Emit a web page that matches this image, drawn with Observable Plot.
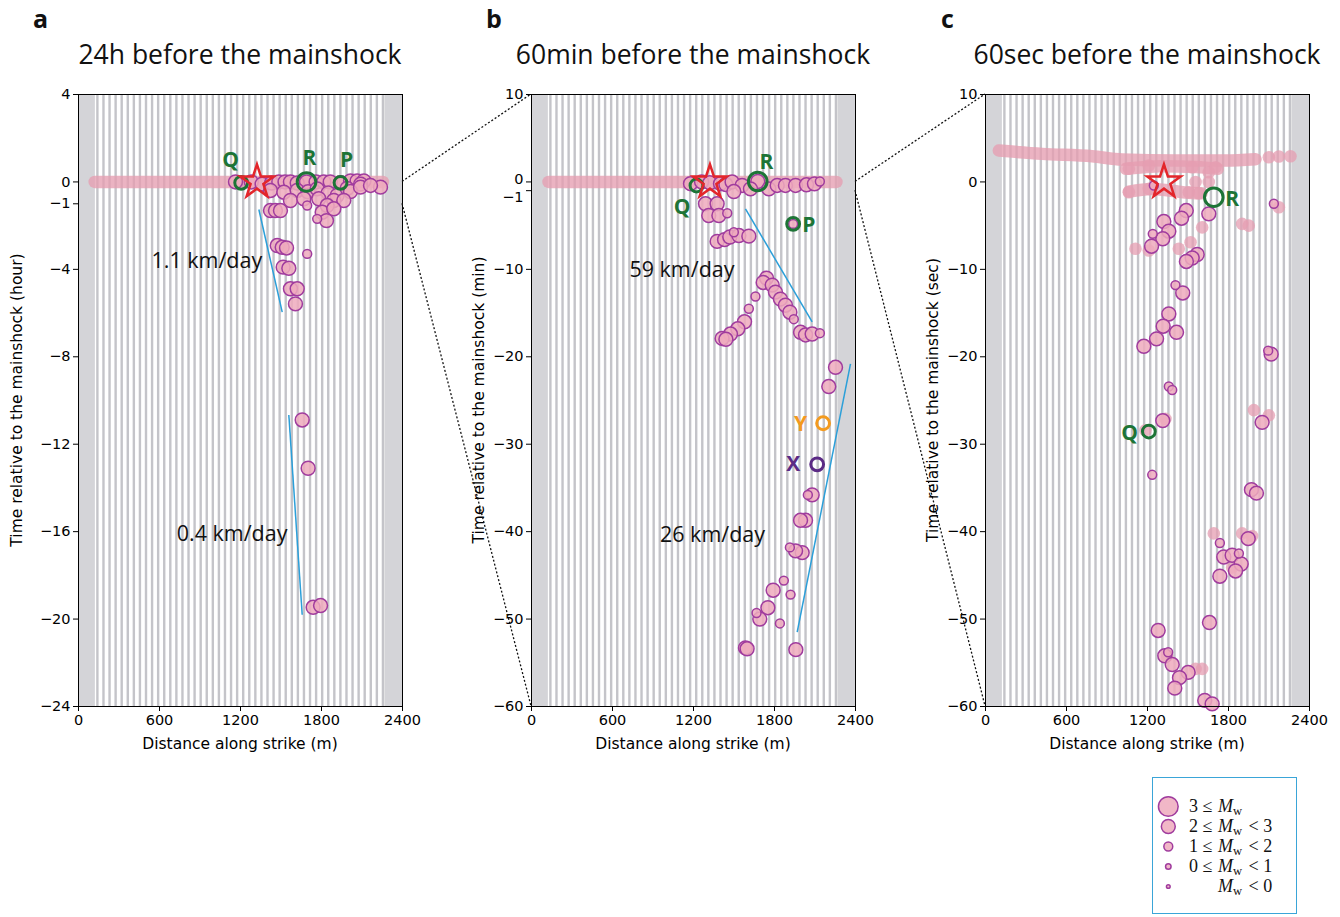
<!DOCTYPE html>
<html>
<head>
<meta charset="utf-8">
<script src="https://cdn.jsdelivr.net/npm/d3@7"></script>
<script src="https://cdn.jsdelivr.net/npm/@observablehq/plot@0.6"></script>
<style>
html,body{margin:0;padding:0;background:#fff;}
#root{position:relative;width:1340px;height:917px;overflow:hidden;background:#fff;}
.abs{position:absolute;}
.letter{font-family:"Open Sans",sans-serif;font-weight:700;font-size:25px;line-height:1;color:#111;}
.title{font-family:"Open Sans",sans-serif;font-size:26.5px;line-height:1;transform:translateX(-50%);white-space:nowrap;color:#111;}
.xlabel{font-family:"DejaVu Sans",sans-serif;font-size:15.5px;line-height:1;transform:translate(-50%,-50%);white-space:nowrap;}
.ylabel{font-family:"DejaVu Sans",sans-serif;font-size:15.5px;line-height:1;transform:translate(-50%,-50%) rotate(-90deg);white-space:nowrap;}
#legend{left:1152px;top:777px;width:143px;height:135px;border:1.5px solid #3aa5d8;background:#fff;}
</style>
</head>
<body>
<div id="root"></div>
<script>
// ---------------- data ----------------
const xTicks = [0, 600, 1200, 1800, 2400];
const yTicksA = [4, 0, -1, -4, -8, -12, -16, -20, -24];
const yTicksB = [10, 0, -1, -10, -20, -30, -40, -50, -60];
const yTicksC = [10, 0, -10, -20, -30, -40, -50, -60];
const panelLetters = ["a", "b", "c"];
const panelTitles = ["24h before the mainshock", "60min before the mainshock", "60sec before the mainshock"];
const yLabels = ["Time relative to the mainshock (hour)", "Time relative to the mainshock (min)", "Time relative to the mainshock (sec)"];
const xLabel = "Distance along strike (m)";
const cableSpan = [125, 2270];      // instrumented section (m)
const channelSpacing = 45;          // spacing of channels (m)
const mainshock = [[1322, 0]];

// events: [distance m, time, Mw]
const eventsA = [
  [1163,0,2.5],[1280,0,2.5],[1360,-0.1,2.5],[1430,-0.05,2.5],[1484,0,2.5],[1530,0,2.5],[1570,0,2.5],[1620,-0.05,2.5],
  [1689,0,2.5],[1760,0,2.5],[1817,0,2.5],[1865,0,2.5],[1941,-0.04,2.5],[2015,0.05,2.5],[2064,0.05,2.5],[2114,0.05,2.5],
  [2090,-0.1,2.5],[2237,-0.24,2.5],
  [1422,-0.39,2.5],[1521,-0.47,2.5],[1620,-0.39,2.5],[1700,-0.45,2.5],[1768,-0.32,2.5],[1850,-0.5,2.5],[1916,-0.62,2.5],
  [1990,-0.3,2.5],[2015,-0.44,2.5],[2089,-0.24,2.5],[2163,-0.16,2.5],
  [1570,-0.85,2.5],[1669,-0.77,2.5],[1780,-0.77,2.5],[1891,-0.85,2.5],[1965,-0.85,2.5],[1694,-1.08,1.5],[1842,-1.08,2.5],
  [1805,-1.39,2.5],[1891,-1.23,2.5],[1768,-1.69,1.5],[1837,-1.77,2.5],
  [1422,-1.31,2.5],[1459,-1.31,2.5],[1496,-1.31,2.5],
  [1472,-2.91,2.5],[1509,-2.99,2.5],[1541,-3.02,2.5],[1694,-3.29,1.5],[1516,-3.9,2.5],[1558,-3.95,2.5],
  [1570,-4.89,2.5],[1620,-4.89,2.5],[1607,-5.58,2.5],
  [1657,-10.89,2.5],[1701,-13.1,2.5],[1738,-19.46,2.5],[1793,-19.38,2.5]
];
const eventsB = [
  [1178,-0.2,2.5],[1260,0,2.5],[1321,-0.1,2.5],[1400,-0.2,2.5],[1440,-0.3,2.5],[1486,0,2.5],[1560,-0.4,2.5],[1676,0.05,2.5],
  [1622,-0.8,2.5],[1499,-1.1,2.5],[1758,-0.8,2.5],[1820,-0.4,2.5],[1881,-0.4,2.5],[1956,-0.4,2.5],[2037,-0.33,2.5],
  [2096,-0.22,2.5],[2136,0.05,1.5],
  [1289,-2.5,2.5],[1375,-2.5,2.5],[1313,-3.84,2.5],[1388,-3.84,2.5],[1450,-3.58,1.5],[1938,-4.8,1.5],
  [1375,-6.8,2.5],[1430,-6.6,2.5],[1469,-6.3,2.5],[1499,-5.75,1.5],[1536,-6.13,2.5],[1610,-6.2,2.5],
  [1741,-11.0,2.5],[1716,-11.5,2.5],[1783,-11.8,2.5],[1807,-12.6,2.5],[1659,-13.1,1.5],[1844,-13.4,2.5],[1881,-14.1,2.5],
  [1914,-14.9,2.5],[1943,-15.7,1.5],[1610,-14.5,1.5],[1578,-16.0,2.5],[1528,-16.8,2.5],[1474,-17.4,2.5],[1412,-17.9,2.5],
  [1440,-18.0,2.5],[1993,-17.2,2.5],[2030,-17.5,2.5],[2079,-17.4,2.5],[2136,-17.3,1.5],
  [2252,-21.2,2.5],[2202,-23.4,2.5],
  [2079,-35.8,2.5],[2047,-35.8,1.5],[2030,-38.7,2.5],[1993,-38.7,2.5],[2005,-42.4,2.5],[1956,-42.2,2.5],[1914,-41.8,1.5],
  [1869,-45.6,1.5],[1790,-46.7,2.5],[1919,-47.2,1.5],[1751,-48.7,2.5],[1667,-49.3,1.5],[1691,-50.0,2.5],[1840,-50.5,1.5],
  [1585,-53.3,2.5],[1597,-53.4,2.5],[1958,-53.5,2.5]
];
const eventsC = [
  [1247,-0.41,1.5],[2136,-2.5,1.5],[1487,-3.27,2.5],[1452,-4.15,2.5],[1654,-3.65,2.5],[1321,-4.53,2.5],[1358,-5.64,2.5],
  [1239,-5.94,1.5],[1313,-6.5,2.5],[1230,-7.35,2.5],[1568,-8.3,2.5],[1531,-8.7,2.5],[1488,-9.1,2.5],[1407,-11.8,1.5],
  [1461,-12.7,2.5],[1358,-15.1,2.5],[1316,-16.5,2.5],[1415,-17.2,2.5],[1267,-17.95,2.5],[1173,-18.8,2.5],[2094,-19.3,1.5],
  [2116,-19.7,2.5],
  [1358,-23.4,1.5],[1383,-23.8,1.5],[1313,-27.3,2.5],[2049,-27.5,2.5],[1235,-33.5,1.5],[1970,-35.2,2.5],[2007,-35.6,2.5],
  [1736,-41.3,1.5],[1946,-40.8,2.5],[1765,-42.9,2.5],[1827,-42.7,2.5],[1877,-42.5,1.5],[1894,-43.7,2.5],[1852,-44.5,2.5],
  [1736,-45.1,2.5],[1659,-50.4,2.5],[1279,-51.3,2.5],[1353,-53.8,1.5],[1328,-54.2,2.5],[1383,-55.2,2.5],[1501,-56.1,2.5],
  [1437,-56.7,2.5],[1402,-57.9,2.5],[1624,-59.3,2.5],[1679,-59.7,2.5]
];

// mainshock rupture traces: [track, distance, time]
const ruptureA = [["r",120,0],["r",2255,0]];
const ruptureB = [["r",126,0],["r",2259,0]];
const ruptureC = [
  ["r1",99,3.59],["r1",420,3.21],["r1",790,2.94],["r1",1012,2.56],["r1",1407,2.45],["r1",1778,2.45],["r1",2000,2.6],
  ["r2",1040,1.5],["r2",1300,1.8],["r2",1560,1.7],["r2",1720,1.5],
  ["r3",1062,-1.1],["r3",1230,-0.8],["r3",1480,-1.2],["r3",1600,-1.3]
];
// faint (un-outlined) detections in panel c: [distance, time]
const faintC = [
  [2099,2.83],[2173,2.9],[2259,2.94],[1062,1.5],[1210,1.88],[1531,1.68],[1654,1.11],[1704,1.68],[1556,0],[1654,0],
  [1062,-1.18],[1210,-0.79],[1506,-1.18],[1580,-1.3],[1901,-4.8],[1950,-5.0],[1605,-5.2],[1519,-6.9],[1111,-7.65],
  [1210,-7.85],[1432,-7.65],[2173,-2.9],[1988,-26.1],[2099,-26.7],[1333,-27.1],[1185,-28.4],[1691,-40.2],[1901,-40.2],
  [1975,-40.5],[1827,-44.1],[1556,-55.7],[1605,-55.7],[1346,-54.2]
];

// highlighted events: [label, distance, time, Mw]
const ringsA = [["Q",1205,-0.04,2.5],["R",1689,0,3.5],["P",1941,-0.04,2.5]];
const ringsB = [["Q",1222,-0.41,2.5],["R",1676,0.05,3.5],["P",1938,-4.8,2.5],["Y",2160,-27.6,2.5],["X",2116,-32.3,2.5]];
const ringsC = [["R",1691,-1.75,3.5],["Q",1210,-28.55,2.5]];
// labels of highlighted events: [label, distance, time]
const tagsA = [["Q",1126,0.98],["R",1711,1.07],["P",1985,0.98]];
const tagsB = [["Q",1116,-2.89],["R",1741,2.2],["P",2054,-4.9],["Y",1993,-27.7],["X",1939,-32.3]];
const tagsC = [["R",1827,-1.93],["Q",1067,-28.8]];

// migration fronts: [x1, t1, x2, t2] and labels [text, distance (end), time]
const frontsA = [[1336,-1.26,1509,-5.96],[1558,-10.66,1657,-19.8]];
const frontsB = [[1585,-3.08,2079,-16.0],[2363,-20.8,1968,-51.5]];
const frontTextA = [["1.1 km/day",1361,-3.6],["0.4 km/day",1548,-16.13]];
const frontTextB = [["59 km/day",1504,-10.1],["26 km/day",1730,-40.4]];

// legend
const legendLow = ["3 \u2264", "2 \u2264", "1 \u2264", "0 \u2264", ""];
const legendHigh = ["", "< 3", "< 2", "< 1", "< 0"];
const legendMw = [3.5, 2.5, 1.5, 0.5, -0.5];

// ---------------- styles ----------------
const C = {
  band: "#d4d4d8", stripe: "#c4c4c9", fill: "#eeaabd", stroke: "#a03c9e", rupture: "#e59db1",
  front: "#2b9fd9", star: "#e3262b"
};
const tagColor = {Q: "#1d7436", R: "#1d7436", P: "#1d7436", Y: "#f39a1e", X: "#5b2a85"};
const classRadius = mw => mw >= 3 ? 10.6 : mw >= 2 ? 7.7 : mw >= 1 ? 5.2 : mw >= 0 ? 3.5 : 2.6;
const stripes = d3.range(cableSpan[0] + 15, cableSpan[1], channelSpacing);

const W = 453, H = 682, ML = 78, MR = 51, MT = 10, MB = 60;
const lefts = [0, 453, 907];
const TOP = 84;

function makePanel(cfg) {
  const ev = cfg.events.map(([x, y, mw]) => ({x, y, mw}));
  const rup = cfg.rupture.map(([k, x, y]) => ({k, x, y}));
  const faint = (cfg.faint || []).map(([x, y]) => ({x, y}));
  const rings = cfg.rings.map(([k, x, y, mw]) => ({k, x, y, mw}));
  const tags = cfg.tags.map(([k, x, y]) => ({k, x, y}));
  const fronts = (cfg.fronts || []).map(([x1, y1, x2, y2]) => ({x1, y1, x2, y2}));
  const ftext = (cfg.frontText || []).map(([t, x, y]) => ({t, x, y}));
  const crowded = cfg.crowded || [];   // pairs of tick labels that sit very close: [upper, lower]
  const fmt = d3.format("d");
  const extra = crowded.length ? [
    Plot.axisY({ticks: [crowded[0]], tickFormat: "d", tickSize: 0, tickPadding: 8, dy: -3, label: null}),
    Plot.axisY({ticks: [crowded[1]], tickFormat: "d", tickSize: 0, tickPadding: 8, dy: 7, label: null})
  ] : [];
  return Plot.plot({
    width: W, height: H, marginLeft: ML, marginRight: MR, marginTop: MT, marginBottom: MB,
    style: {background: "transparent", fontFamily: "DejaVu Sans, sans-serif", fontSize: "14.5px", color: "black", overflow: "visible"},
    x: {domain: [0, 2400]},
    y: {domain: cfg.yDomain},
    r: {type: "identity"},
    color: {type: "identity"},
    marks: [
      Plot.frame({fill: C.band, stroke: null}),
      Plot.rect([cableSpan], {x1: d => d[0], x2: d => d[1], fill: "white"}),
      Plot.ruleX(stripes, {stroke: C.stripe, strokeWidth: 2.4}),
      Plot.line(rup, {x: "x", y: "y", z: "k", stroke: C.rupture, strokeWidth: 12.5, strokeLinecap: "round", strokeLinejoin: "round", strokeOpacity: 0.78, curve: "monotone-x"}),
      Plot.dot(faint, {x: "x", y: "y", r: 6.3, fill: C.rupture, fillOpacity: 0.75, stroke: null}),
      Plot.dot(ev, {x: "x", y: "y", r: d => classRadius(d.mw) - 0.75, fill: C.fill, fillOpacity: 0.85, stroke: C.stroke, strokeWidth: 1.5}),
      Plot.link(fronts, {x1: "x1", y1: "y1", x2: "x2", y2: "y2", stroke: C.front, strokeWidth: 1.5}),
      Plot.dot(rings, {x: "x", y: "y", r: d => classRadius(d.mw) - 1.3, stroke: d => tagColor[d.k], strokeWidth: 3, fill: "none"}),
      Plot.dot(mainshock, {x: d => d[0], y: d => d[1], symbol: "star", r: 10.5, stroke: C.star, strokeWidth: 2.5, fill: "none"}),
      Plot.text(tags, {x: "x", y: "y", text: "k", fill: d => tagColor[d.k], fontWeight: "bold", fontSize: 21, fontFamily: "Open Sans, sans-serif"}),
      Plot.text(ftext, {x: "x", y: "y", text: "t", textAnchor: "end", fill: "#111", fontSize: 21.5, fontFamily: "Open Sans, sans-serif"}),
      Plot.axisX({ticks: xTicks, tickFormat: "d", tickSize: 5, tickPadding: 3, label: null}),
      Plot.axisY({ticks: cfg.yTicks, tickFormat: d => crowded.includes(d) ? "" : fmt(d), tickSize: 5, tickPadding: 3, label: null}),
      ...extra,
      Plot.frame({stroke: "black", strokeWidth: 1})
    ]
  });
}

const root = document.getElementById("root");
const cfgs = [
  {events: eventsA, rupture: ruptureA, rings: ringsA, tags: tagsA, fronts: frontsA, frontText: frontTextA, yDomain: [-24, 4], yTicks: yTicksA},
  {events: eventsB, rupture: ruptureB, rings: ringsB, tags: tagsB, fronts: frontsB, frontText: frontTextB, yDomain: [-60, 10], yTicks: yTicksB, crowded: [0, -1]},
  {events: eventsC, rupture: ruptureC, faint: faintC, rings: ringsC, tags: tagsC, yDomain: [-60, 10], yTicks: yTicksC}
];
const plots = cfgs.map((cfg, i) => {
  const div = document.createElement("div");
  div.className = "abs";
  div.style.left = lefts[i] + "px";
  div.style.top = TOP + "px";
  div.style.width = W + "px";
  const p = makePanel(cfg);
  div.appendChild(p);
  root.appendChild(div);
  return p;
});

function addDiv(cls, text, x, y) {
  const d = document.createElement("div");
  d.className = "abs " + cls;
  d.textContent = text;
  d.style.left = x + "px";
  d.style.top = y + "px";
  root.appendChild(d);
  return d;
}
plots.forEach((p, i) => {
  const cx = lefts[i] + ML + (W - ML - MR) / 2;
  addDiv("letter", panelLetters[i], lefts[i] + 33 + (i === 2 ? 1 : 0), 6);
  addDiv("title", panelTitles[i], cx, 41);
  addDiv("xlabel", xLabel, cx, 745);
  addDiv("ylabel", yLabels[i], lefts[i] + 18 + (i > 0 ? 9 : 0), TOP + MT + (H - MT - MB) / 2);
});

// zoom connectors computed from the panels' scales
const overlay = d3.select(root).append("svg").attr("class", "abs").attr("width", 1340).attr("height", 917)
  .style("left", "0px").style("top", "0px").style("pointer-events", "none");
function pt(i, x, y) {
  return [lefts[i] + plots[i].scale("x").apply(x), TOP + plots[i].scale("y").apply(y)];
}
const connectors = [
  [pt(0, 2400, 0), pt(1, 0, 10)], [pt(0, 2400, -1), pt(1, 0, -60)],
  [pt(1, 2400, 0), pt(2, 0, 10)], [pt(1, 2400, -1), pt(2, 0, -60)]
];
overlay.selectAll("line").data(connectors).join("line")
  .attr("x1", d => d[0][0]).attr("y1", d => d[0][1]).attr("x2", d => d[1][0]).attr("y2", d => d[1][1])
  .attr("stroke", "#111").attr("stroke-width", 1.3).attr("stroke-dasharray", "2,2");

// legend
const legendRows = legendMw.map((mw, i) => ({key: String(i), mw, lo: legendLow[i], hi: legendHigh[i]}));
const lg = document.createElement("div");
lg.id = "legend"; lg.className = "abs";
root.appendChild(lg);
const serif = "Liberation Serif, DejaVu Serif, serif";
lg.appendChild(Plot.plot({
  width: 143, height: 135, margin: 0,
  style: {background: "transparent", overflow: "visible"},
  y: {type: "point", domain: legendRows.map(d => d.key), range: [16.5, 120], axis: null},
  r: {type: "identity"},
  marks: [
    Plot.dot(legendRows, {y: "key", frameAnchor: "left", dx: 14.8, r: d => classRadius(d.mw) - 0.75, fill: C.fill, fillOpacity: 0.85, stroke: C.stroke, strokeWidth: 1.5}),
    Plot.text(legendRows, {y: "key", frameAnchor: "left", dx: 59, text: "lo", textAnchor: "end", fontFamily: serif, fontSize: 18, fill: "#111"}),
    Plot.text(legendRows, {y: "key", frameAnchor: "left", dx: 64.5, text: () => "M", textAnchor: "start", fontStyle: "italic", fontFamily: serif, fontSize: 18, fill: "#111"}),
    Plot.text(legendRows, {y: "key", frameAnchor: "left", dx: 79.5, dy: 4, text: () => "w", textAnchor: "start", fontFamily: serif, fontSize: 12.5, fill: "#111"}),
    Plot.text(legendRows, {y: "key", frameAnchor: "left", dx: 95, text: "hi", textAnchor: "start", fontFamily: serif, fontSize: 18, fill: "#111"})
  ]
}));
</script>
</body>
</html>
